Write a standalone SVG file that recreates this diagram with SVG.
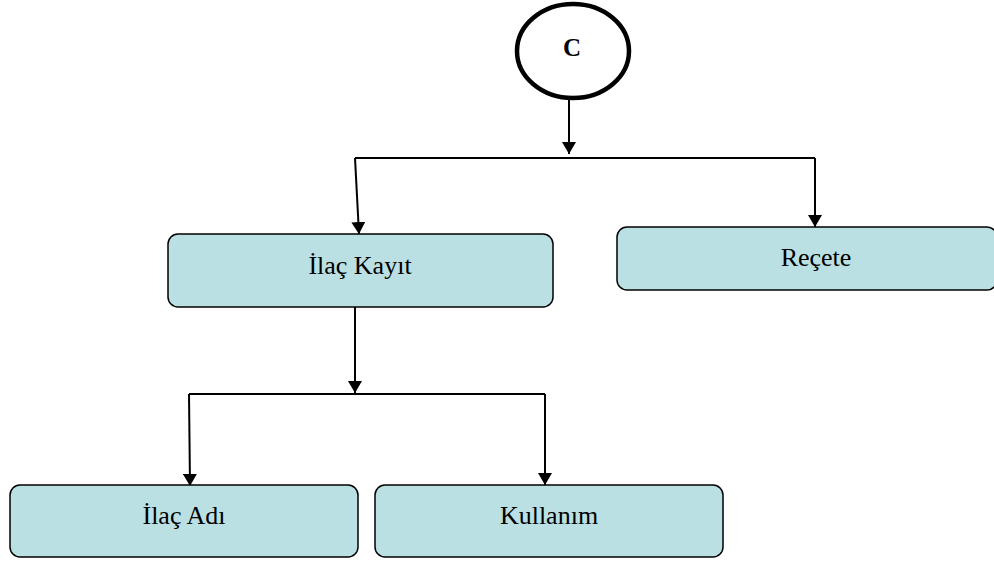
<svg xmlns="http://www.w3.org/2000/svg" width="994" height="561" viewBox="0 0 994 561">
  <style>
    .box { fill: #bbe0e3; stroke: #000; stroke-width: 1.5; }
    .wire { fill: none; stroke: #000; stroke-width: 2; }
    .arrow { fill: none; stroke: #000; stroke-width: 2; marker-end: url(#head); }
  </style>
  <defs>
    <marker id="head" viewBox="0 0 12 14" refX="12" refY="7" markerWidth="12" markerHeight="14" markerUnits="userSpaceOnUse" orient="auto">
      <path d="M0,0 L12,7 L0,14 Z" fill="#000"/>
    </marker>
  </defs>

  <g id="connectors">
    <line class="arrow" x1="569" y1="100" x2="569" y2="154"/>
    <polyline class="wire" points="355,158 815,158"/>
    <line class="arrow" x1="355" y1="158" x2="359" y2="234"/>
    <line class="arrow" x1="815" y1="158" x2="815" y2="227"/>
    <line class="arrow" x1="355" y1="307" x2="355" y2="393"/>
    <polyline class="wire" points="189,394 545,394"/>
    <line class="arrow" x1="189" y1="394" x2="190" y2="486"/>
    <line class="arrow" x1="545" y1="394" x2="545" y2="485"/>
  </g>

  <g id="node-c">
    <ellipse cx="573" cy="51" rx="56" ry="47" fill="#fff" stroke="#000" stroke-width="4.5"/>
    <text x="572" y="56" font-family="Liberation Serif, serif" font-size="25" font-weight="bold" text-anchor="middle">C</text>
  </g>

  <g id="node-ilac-kayit">
    <rect class="box" x="168" y="234" width="385" height="73" rx="10"/>
    <text x="360" y="274" font-family="Liberation Serif, serif" font-size="26" text-anchor="middle">İlaç Kayıt</text>
  </g>

  <g id="node-recete">
    <rect class="box" x="617" y="227" width="380" height="63" rx="10"/>
    <text x="816" y="266" font-family="Liberation Serif, serif" font-size="26" text-anchor="middle">Reçete</text>
  </g>

  <g id="node-ilac-adi">
    <rect class="box" x="10" y="485" width="348" height="72" rx="10"/>
    <text x="184" y="524" font-family="Liberation Serif, serif" font-size="26" text-anchor="middle">İlaç Adı</text>
  </g>

  <g id="node-kullanim">
    <rect class="box" x="375" y="485" width="348" height="72" rx="10"/>
    <text x="549" y="524" font-family="Liberation Serif, serif" font-size="26" text-anchor="middle">Kullanım</text>
  </g>
</svg>
